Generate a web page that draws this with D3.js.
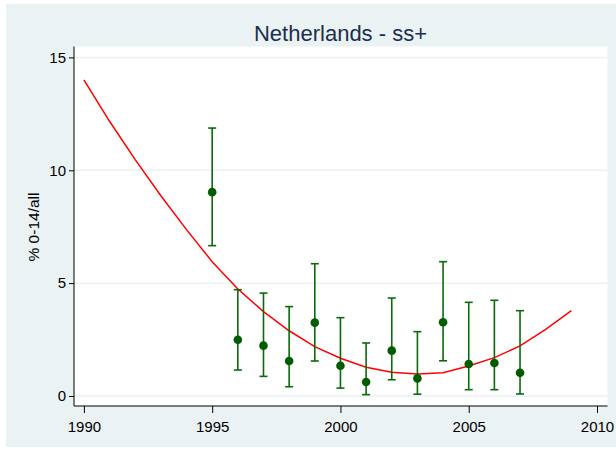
<!DOCTYPE html>
<html>
<head>
<meta charset="utf-8">
<script src="https://cdn.jsdelivr.net/npm/d3@7"></script>
<style>
  body { margin: 0; background: #fff; }
  svg { display: block; font-family: "Liberation Sans", Arial, sans-serif; }
</style>
</head>
<body>
<div id="chart"></div>
<script>
const years = [1995, 1996, 1997, 1998, 1999, 2000, 2001, 2002, 2003, 2004, 2005, 2006, 2007];
const pct = [9.03, 2.49, 2.23, 1.55, 3.25, 1.34, 0.62, 2.01, 0.78, 3.27, 1.42, 1.46, 1.03];
const ciLow = [6.66, 1.15, 0.87, 0.41, 1.55, 0.35, 0.06, 0.72, 0.08, 1.56, 0.28, 0.28, 0.09];
const ciHigh = [11.87, 4.71, 4.56, 3.96, 5.86, 3.47, 2.35, 4.34, 2.85, 5.95, 4.15, 4.24, 3.78];

const fitYears = [1990, 1991, 1992, 1993, 1994, 1995, 1996, 1997, 1998, 1999,
                  2000, 2001, 2002, 2003, 2004, 2005, 2006, 2007, 2008, 2009];
const fitValues = [14.0, 12.17, 10.47, 8.87, 7.37, 5.95, 4.74, 3.74, 2.89, 2.19,
                   1.67, 1.27, 1.05, 0.97, 1.03, 1.33, 1.70, 2.22, 2.95, 3.78];

const xTicks = [1990, 1995, 2000, 2005, 2010];
const yTicks = [0, 5, 10, 15];

const width = 616, height = 450;
const plot = {left: 74, right: 607.5, top: 46.5, bottom: 406};

const svg = d3.select("#chart").append("svg")
  .attr("width", width)
  .attr("height", height);

// outer graph region
svg.append("rect")
  .attr("x", 6).attr("y", 4)
  .attr("width", width - 6).attr("height", 443)
  .attr("fill", "#eaf2f3");

svg.append("rect")
  .attr("x", plot.left).attr("y", plot.top)
  .attr("width", plot.right - plot.left).attr("height", plot.bottom - plot.top)
  .attr("fill", "#fff");

const x = d3.scaleLinear().domain([1990, 2010]).range([83.9, 597]);
const y = d3.scaleLinear().domain([0, 15]).range([396, 57.4]);

// grid
svg.append("g")
  .selectAll("line")
  .data(yTicks)
  .join("line")
  .attr("x1", plot.left).attr("x2", plot.right)
  .attr("y1", d => y(d)).attr("y2", d => y(d))
  .attr("stroke", "#eaf2f3")
  .attr("stroke-width", 1.5);

// axes
const yAxis = svg.append("g")
  .attr("transform", `translate(${plot.left},0)`)
  .call(d3.axisLeft(y).tickValues(yTicks).tickSize(5).tickPadding(3).tickFormat(d3.format("d")));
yAxis.select(".domain").attr("d", `M0,${plot.top}V${plot.bottom}`);

const xAxis = svg.append("g")
  .attr("transform", `translate(0,${plot.bottom})`)
  .call(d3.axisBottom(x).tickValues(xTicks).tickSize(7).tickPadding(8).tickFormat(d3.format("d")));
xAxis.select(".domain").attr("d", `M${plot.left},0H${plot.right}`);

svg.selectAll(".tick text")
  .attr("font-size", 15)
  .attr("font-family", "'Liberation Sans', Arial, sans-serif")
  .attr("fill", "#000");
svg.selectAll(".domain, .tick line").attr("stroke", "#000").attr("stroke-width", 1);

// fitted curve
const line = d3.line()
  .x((d, i) => x(fitYears[i]))
  .y(d => y(d));

svg.append("path")
  .datum(fitValues)
  .attr("d", line)
  .attr("fill", "none")
  .attr("stroke", "#ff0000")
  .attr("stroke-width", 1.5);

// error bars
const bars = svg.append("g")
  .attr("stroke", "#0b690b")
  .attr("stroke-width", 1.6)
  .selectAll("g")
  .data(years)
  .join("g");

bars.append("line")
  .attr("x1", d => x(d)).attr("x2", d => x(d))
  .attr("y1", (d, i) => y(ciLow[i])).attr("y2", (d, i) => y(ciHigh[i]));
bars.append("line")
  .attr("x1", d => x(d) - 4).attr("x2", d => x(d) + 4)
  .attr("y1", (d, i) => y(ciLow[i])).attr("y2", (d, i) => y(ciLow[i]));
bars.append("line")
  .attr("x1", d => x(d) - 4).attr("x2", d => x(d) + 4)
  .attr("y1", (d, i) => y(ciHigh[i])).attr("y2", (d, i) => y(ciHigh[i]));

// points
svg.append("g")
  .selectAll("circle")
  .data(years)
  .join("circle")
  .attr("cx", d => x(d))
  .attr("cy", (d, i) => y(pct[i]))
  .attr("r", 4.3)
  .attr("fill", "#005c00");

// title
svg.append("text")
  .attr("x", 340.5).attr("y", 41)
  .attr("text-anchor", "middle")
  .attr("font-size", 22)
  .attr("fill", "#1e2d4f")
  .text("Netherlands - ss+");

// y label
svg.append("text")
  .attr("transform", "translate(38.5,227) rotate(-90)")
  .attr("text-anchor", "middle")
  .attr("font-size", 15.5)
  .attr("fill", "#000")
  .text("% 0-14/all");
</script>
</body>
</html>
